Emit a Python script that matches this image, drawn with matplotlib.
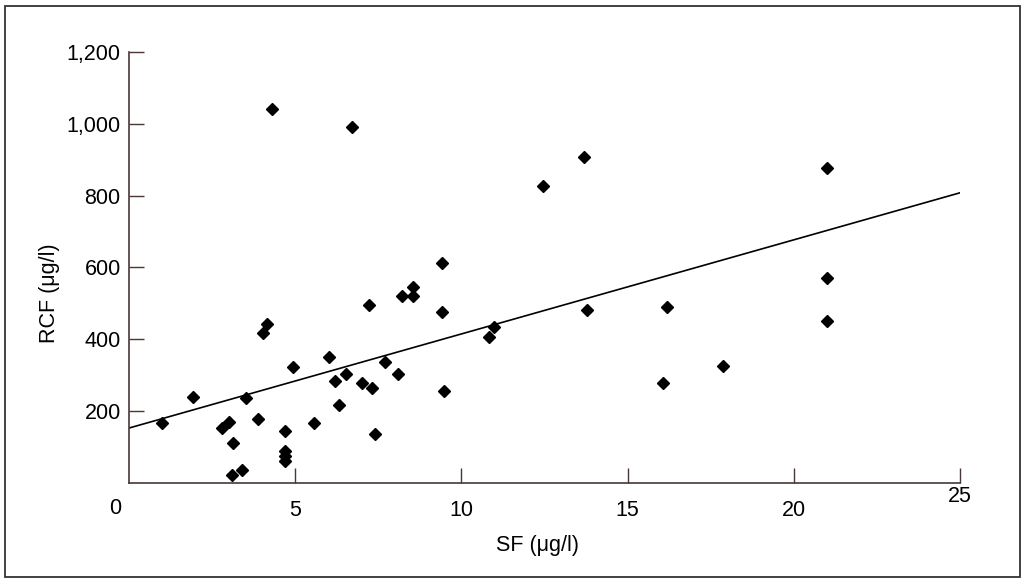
import matplotlib.pyplot as plt
from matplotlib.patches import Rectangle
import numpy as np

# data
sf = [0.99, 1.93, 2.81, 3.01, 3.13, 3.09, 3.41, 3.52, 3.89, 4.02, 4.14, 4.29,
      4.69, 4.69, 4.69, 4.69, 4.92, 5.58, 6.03, 6.20, 6.31, 6.53, 6.71, 7.01,
      7.22, 7.31, 7.39, 7.71, 8.09, 8.20, 8.53, 8.53, 9.43, 9.43, 9.49, 10.83,
      10.98, 12.46, 13.69, 13.79, 16.07, 16.20, 17.88, 20.99, 20.99, 20.99]
rcf = [166, 240, 154, 171, 112, 22, 36, 238, 177, 417, 444, 1042,
       146, 88, 75, 62, 324, 166, 350, 285, 217, 304, 991, 278,
       496, 264, 137, 337, 303, 521, 545, 521, 612, 476, 256, 406,
       435, 827, 907, 482, 279, 491, 326, 877, 570, 450]

# regression line end points (SF 0 and 25)
fit_x = [0, 25]
fit_y = [153, 808]

x_ticks = [5, 10, 15, 20, 25]
y_ticks = [200, 400, 600, 800, 1000, 1200]
y_labels = ['200', '400', '600', '800', '1,000', '1,200']

plt.rcParams['font.family'] = ['Liberation Sans', 'DejaVu Sans']
axis_col = '#4a3636'
fs = 15.5

fig = plt.figure(figsize=(10.23, 5.79), dpi=100)
ax = fig.add_axes([0.1261, 0.1658, 0.8123, 0.7444])

ax.plot(fit_x, fit_y, color='black', lw=1.2, zorder=2)
ax.plot(sf, rcf, 'D', color='black', ms=5.8, zorder=3)

ax.set_xlim(0, 25)
ax.set_ylim(0, 1200)
for s in ['top', 'right']:
    ax.spines[s].set_visible(False)
for s in ['left', 'bottom']:
    ax.spines[s].set_color(axis_col)
    ax.spines[s].set_linewidth(1.2)

ax.set_xticks(x_ticks)
ax.set_xticklabels(['5', '10', '15', '20', ''])
ax.set_yticks(y_ticks)
ax.set_yticklabels(y_labels)
ax.tick_params(axis='x', direction='in', length=11, width=1, color=axis_col,
               labelsize=fs, pad=12)
ax.tick_params(axis='y', direction='in', length=11, width=1, color=axis_col,
               labelsize=fs, pad=6)

# the 0 and 25 labels sit a little off in the original
ax.annotate('0', xy=(0, 0), xycoords='data', xytext=(-10, -18),
            textcoords='offset points', ha='center', va='center', fontsize=fs)
ax.annotate('25', xy=(25, 0), xycoords='data', xytext=(0, -10),
            textcoords='offset points', ha='center', va='center', fontsize=fs)

ax.set_xlabel('SF (\u03bcg/l)', fontsize=fs)
ax.xaxis.set_label_coords(0.491, -0.12)
ax.set_ylabel('RCF (\u03bcg/l)', fontsize=fs)
ax.yaxis.set_label_coords(-0.083, 0.44)

# frame around the whole figure
fig.add_artist(Rectangle((0.005, 0.004), 0.992, 0.986, transform=fig.transFigure,
                         fill=False, edgecolor='#333333', lw=1.3))

fig.savefig('out.png', dpi=100)
